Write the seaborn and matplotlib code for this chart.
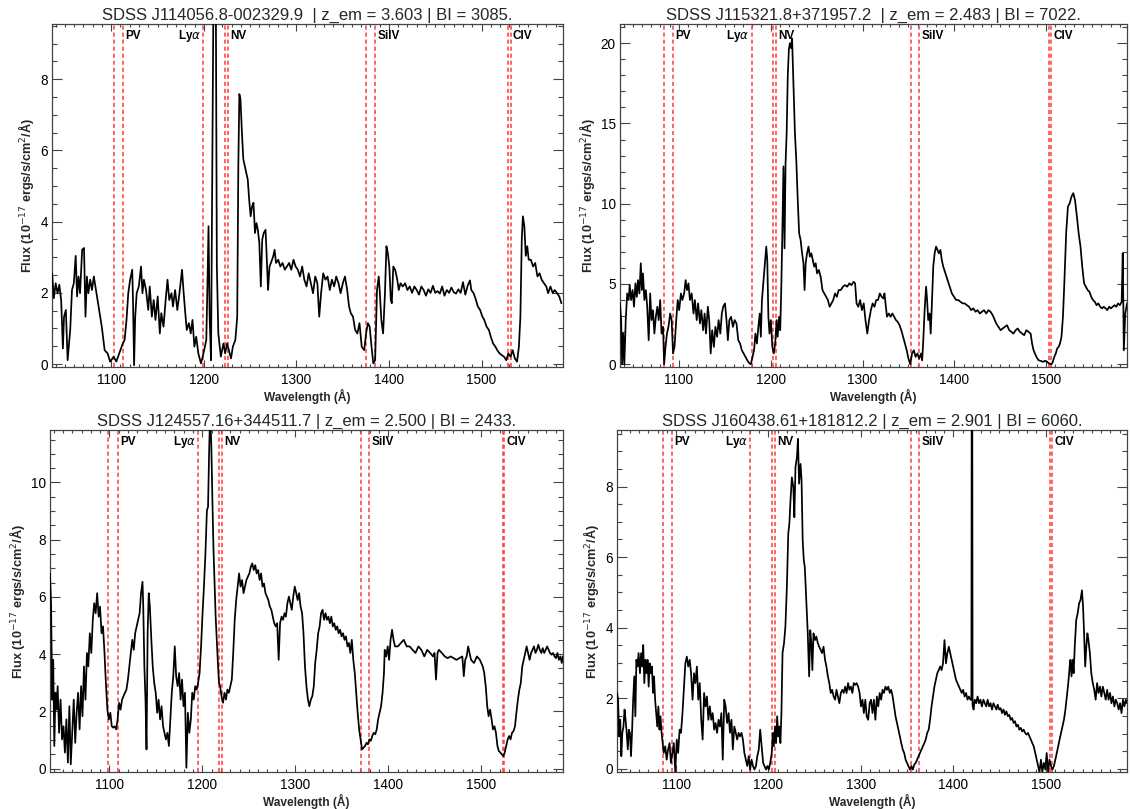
import matplotlib
matplotlib.use("Agg")
import matplotlib.pyplot as plt
import matplotlib.transforms as mtransforms
from matplotlib.ticker import MultipleLocator
import seaborn as sns

# ---------------- data ----------------
titles = [
    "SDSS J114056.8-002329.9  | z_em = 3.603 | BI = 3085.",
    "SDSS J115321.8+371957.2  | z_em = 2.483 | BI = 7022.",
    "SDSS J124557.16+344511.7 | z_em = 2.500 | BI = 2433.",
    "SDSS J160438.61+181812.2 | z_em = 2.901 | BI = 6060.",
]

ion_names = ["PV", "Ly$\\alpha$", "NV", "SiIV", "CIV"]

# dashed marker positions: PV a/b, Lya, NV a/b, SiIV a/b, CIV a/b
lines1 = [1102.9, 1112.7, 1199.3, 1222.9, 1226.0, 1375.5, 1384.9, 1529.0, 1531.5]
lines2 = [1084.0, 1094.1, 1179.2, 1202.2, 1205.7, 1352.8, 1361.7, 1503.0, 1505.3]
lines3 = [1098.2, 1108.8, 1195.5, 1217.9, 1221.4, 1370.6, 1379.3, 1523.0, 1525.0]
lines4 = [1085.5, 1095.2, 1180.5, 1203.5, 1207.0, 1354.3, 1362.8, 1504.2, 1506.6]

# panel 1 : SDSS J114056.8-002329.9
w1 = [1036.1, 1038.0, 1040.0, 1042.0, 1043.9, 1045.9, 1047.8, 1049.0, 1051.0, 1052.9,
      1055.7, 1057.6, 1059.6, 1061.6, 1063.1, 1064.7, 1066.3, 1068.6, 1070.6, 1072.2,
      1073.7, 1075.3, 1077.3, 1079.2, 1081.2, 1083.5, 1085.1, 1087.5, 1089.8, 1092.9,
      1096.1, 1098.8, 1102.7, 1105.5, 1108.6, 1112.5, 1114.5, 1116.5, 1118.4, 1120.4,
      1122.7, 1123.5, 1124.7, 1125.9, 1127.5, 1129.8, 1132.2, 1133.7, 1135.3, 1137.6,
      1140.0, 1141.6, 1143.9, 1145.9, 1147.8, 1150.2, 1152.5, 1154.1, 1156.5, 1158.8,
      1160.8, 1162.7, 1165.1, 1166.7, 1169.0, 1171.4, 1173.7, 1176.5, 1178.0, 1180.0,
      1181.6, 1183.9, 1185.9, 1187.8, 1189.8, 1191.8, 1194.1, 1196.9, 1198.8, 1201.2,
      1202.7, 1203.9, 1205.1, 1206.3, 1207.8, 1209.4, 1210.6, 1212.9, 1214.1, 1215.7,
      1218.4, 1221.2, 1223.1, 1225.1, 1227.1, 1229.4, 1231.4, 1234.1, 1236.1, 1237.3,
      1238.4, 1239.6, 1241.2, 1242.7, 1244.3, 1245.9, 1247.5, 1249.0, 1250.6, 1252.2,
      1253.7, 1255.3, 1256.9, 1258.4, 1260.0, 1261.6, 1263.1, 1264.7, 1266.7, 1267.8,
      1269.4, 1271.0, 1272.5, 1274.9, 1276.5, 1278.0, 1280.4, 1282.7, 1285.1, 1287.5,
      1289.8, 1292.2, 1294.5, 1296.9, 1299.2, 1301.6, 1303.9, 1306.3, 1308.6, 1311.0,
      1313.3, 1315.7, 1318.0, 1320.4, 1322.7, 1324.7, 1326.7, 1329.0, 1331.4, 1333.7,
      1336.1, 1338.4, 1340.8, 1343.1, 1345.5, 1347.8, 1350.2, 1352.5, 1354.9, 1356.9,
      1358.8, 1361.2, 1363.5, 1365.9, 1368.2, 1370.6, 1373.3, 1375.3, 1377.3, 1379.2,
      1381.2, 1383.1, 1385.1, 1387.1, 1389.0, 1390.2, 1391.8, 1393.7, 1395.7, 1397.3,
      1398.8, 1400.4, 1402.0, 1403.1, 1404.7, 1406.7, 1409.0, 1410.6, 1412.5, 1415.0,
      1417.5, 1420.0, 1422.5, 1425.0, 1427.5, 1430.0, 1432.5, 1435.0, 1437.5, 1440.0,
      1442.5, 1445.0, 1447.5, 1450.0, 1452.5, 1455.0, 1457.5, 1460.0, 1462.5, 1465.0,
      1467.5, 1470.0, 1472.5, 1475.0, 1477.5, 1480.0, 1482.5, 1485.0, 1487.5, 1489.0,
      1491.5, 1494.0, 1496.0, 1498.5, 1501.0, 1503.0, 1505.5, 1508.0, 1510.0, 1512.5,
      1515.0, 1517.0, 1519.5, 1522.0, 1524.3, 1526.7, 1529.0, 1531.4, 1533.7, 1536.0,
      1538.4, 1540.4, 1542.0, 1543.5, 1544.7, 1546.3, 1547.8, 1549.4, 1551.0, 1553.3,
      1555.7, 1558.0, 1560.4, 1562.7, 1565.0, 1567.5, 1570.0, 1572.0, 1574.5, 1577.0,
      1579.0, 1581.6, 1584.0, 1586.3]
f1 = [2.55, 1.85, 2.27, 1.99, 2.23, 1.80, 0.44, 1.33, 1.52, 0.11,
      0.96, 2.08, 2.27, 3.04, 1.90, 2.46, 1.99, 3.21, 3.26, 1.33,
      2.46, 1.99, 2.37, 2.08, 2.46, 2.08, 1.80, 1.43, 1.05, 0.39,
      0.30, 0.07, 0.21, 0.07, 0.30, 0.58, 0.68, 1.24, 1.99, 2.37,
      2.65, 1.80, -0.03, 1.33, 1.99, 2.18, 2.74, 1.99, 2.37, 2.08,
      1.52, 2.18, 1.33, 1.80, 1.24, 1.90, 0.86, 1.43, 1.05, 1.80,
      2.37, 1.80, 1.99, 1.62, 2.08, 1.52, 1.99, 2.65, 2.08, 1.43,
      0.96, 1.15, 0.86, 1.24, 0.49, 0.77, 0.30, 0.02, 0.21, 0.49,
      0.68, 2.18, 3.87, 1.33, 0.11, 6.50, 11.0, 11.0, 2.74, 0.86,
      0.21, 0.58, 0.30, 0.58, 0.39, 0.16, 0.49, 0.68, 1.33, 5.56,
      7.58, 7.44, 6.50, 5.75, 5.56, 5.37, 5.18, 4.62, 4.15, 4.43,
      4.53, 3.68, 3.96, 3.77, 3.40, 2.18, 3.49, 3.68, 3.77, 3.12,
      2.08, 2.74, 2.84, 3.02, 3.21, 2.84, 2.93, 2.74, 2.84, 2.65,
      2.74, 2.84, 2.65, 2.93, 2.74, 2.65, 2.46, 2.74, 2.37, 2.18,
      2.55, 2.27, 1.99, 2.46, 2.27, 1.33, 1.99, 2.55, 2.37, 2.46,
      2.08, 2.37, 2.18, 2.46, 2.27, 1.99, 2.27, 2.46, 2.08, 1.62,
      1.43, 1.33, 0.96, 0.86, 1.15, 0.49, 0.39, 0.86, 1.15, 1.05,
      0.49, 0.02, 0.11, 2.08, 2.46, 1.99, 1.24, 0.86, 1.99, 3.31,
      3.12, 2.74, 1.80, 1.71, 2.74, 2.65, 2.37, 2.08, 2.27, 2.18,
      2.27, 2.08, 2.18, 2.00, 2.18, 2.08, 1.95, 2.18, 2.08, 1.92,
      2.10, 2.00, 2.20, 2.00, 2.05, 1.98, 2.18, 1.92, 2.08, 2.00,
      2.15, 2.02, 1.98, 2.10, 2.00, 2.30, 1.95, 2.20, 2.35, 2.08,
      1.99, 1.80, 1.62, 1.52, 1.33, 1.24, 1.05, 0.96, 0.77, 0.58,
      0.49, 0.39, 0.30, 0.25, 0.21, 0.11, 0.30, 0.21, 0.39, 0.16,
      0.07, 0.49, 1.33, 3.49, 4.15, 3.87, 3.04, 3.31, 2.93, 2.93,
      2.74, 2.84, 2.46, 2.55, 2.37, 2.27, 2.18, 1.99, 2.18, 1.99,
      2.08, 1.99, 1.90, 1.71]

# panel 2 : SDSS J115321.8+371957.2
w2 = [1036.0, 1037.2, 1038.3, 1039.5, 1040.7, 1042.2, 1043.8, 1045.4, 1046.5, 1048.1,
      1049.7, 1051.2, 1052.8, 1054.3, 1055.5, 1057.1, 1058.6, 1059.8, 1061.0, 1062.5,
      1064.1, 1065.6, 1067.2, 1068.8, 1070.3, 1071.9, 1073.4, 1075.0, 1076.6, 1078.1,
      1079.7, 1081.2, 1082.8, 1084.0, 1085.5, 1087.1, 1088.7, 1090.6, 1092.2, 1093.7,
      1095.3, 1097.2, 1098.8, 1100.4, 1102.3, 1103.9, 1105.8, 1107.4, 1108.9, 1110.5,
      1112.1, 1114.0, 1116.0, 1117.5, 1119.5, 1121.0, 1123.0, 1124.5, 1126.5, 1128.1,
      1129.6, 1131.6, 1133.1, 1134.7, 1136.3, 1138.2, 1139.8, 1141.7, 1143.3, 1145.2,
      1146.8, 1148.3, 1150.3, 1151.9, 1153.4, 1155.0, 1156.9, 1158.9, 1160.8, 1162.8,
      1164.7, 1166.7, 1168.6, 1170.6, 1172.5, 1174.5, 1176.4, 1178.4, 1180.3, 1181.9,
      1183.4, 1185.0, 1186.6, 1188.1, 1189.3, 1190.5, 1192.0, 1193.2, 1194.4, 1195.2,
      1196.3, 1197.5, 1198.7, 1200.2, 1201.8, 1203.4, 1204.9, 1206.5, 1207.6, 1209.2,
      1210.4, 1211.5, 1212.7, 1213.9, 1215.1, 1216.2, 1217.4, 1218.6, 1219.8, 1220.9,
      1222.1, 1223.3, 1224.8, 1226.4, 1227.9, 1229.5, 1231.0, 1232.6, 1234.2, 1235.7,
      1236.9, 1238.1, 1239.6, 1241.2, 1242.7, 1244.3, 1245.9, 1247.4, 1249.0, 1250.5,
      1252.5, 1254.4, 1256.4, 1258.4, 1260.3, 1262.3, 1264.2, 1266.2, 1268.1, 1270.1,
      1272.0, 1274.0, 1276.3, 1278.7, 1281.0, 1283.3, 1285.7, 1288.0, 1290.3, 1291.9,
      1293.5, 1295.4, 1297.4, 1299.3, 1301.3, 1303.2, 1305.2, 1307.1, 1309.1, 1311.0,
      1313.0, 1314.9, 1316.9, 1318.8, 1320.8, 1322.7, 1323.9, 1325.4, 1326.6, 1328.6,
      1330.5, 1332.5, 1334.4, 1336.4, 1338.3, 1340.3, 1342.2, 1344.2, 1346.1, 1348.1,
      1350.0, 1352.0, 1353.9, 1355.9, 1357.8, 1359.8, 1361.7, 1363.7, 1364.9, 1366.0,
      1367.6, 1369.2, 1370.3, 1371.5, 1373.1, 1374.2, 1375.4, 1377.0, 1378.5, 1380.1,
      1381.6, 1383.2, 1384.8, 1386.3, 1387.9, 1390.2, 1392.6, 1394.9, 1397.3, 1399.6,
      1401.9, 1404.3, 1406.6, 1409.0, 1411.3, 1413.6, 1416.0, 1418.3, 1420.6, 1423.0,
      1425.3, 1427.7, 1430.0, 1432.3, 1434.7, 1437.0, 1439.4, 1441.7, 1444.0, 1445.6,
      1448.0, 1450.3, 1452.6, 1455.0, 1457.3, 1459.7, 1462.0, 1464.3, 1466.7, 1469.0,
      1471.3, 1473.7, 1476.0, 1478.4, 1480.7, 1483.0, 1484.6, 1486.2, 1487.7, 1489.3,
      1491.6, 1493.9, 1496.3, 1498.6, 1501.0, 1503.3, 1505.7, 1507.2, 1508.8, 1510.4,
      1511.9, 1513.5, 1515.0, 1516.6, 1518.2, 1519.7, 1521.7, 1523.6, 1525.6, 1527.5,
      1529.5, 1531.4, 1533.4, 1535.3, 1537.3, 1539.2, 1541.2, 1543.1, 1545.1, 1547.0,
      1549.0, 1550.9, 1552.9, 1554.8, 1556.7, 1558.7, 1560.7, 1562.6, 1564.6, 1566.5,
      1568.5, 1570.4, 1572.4, 1574.3, 1576.3, 1578.2, 1580.2, 1582.1, 1583.3, 1584.5,
      1586.0, 1588.0]
f2 = [3.79, 2.75, 0.00, 1.91, 0.00, 2.75, 4.41, 4.00, 4.93, 4.00,
      4.62, 3.58, 5.04, 4.20, 5.24, 4.41, 6.29, 4.62, 5.66, 4.00,
      4.62, 3.58, 1.50, 4.41, 2.75, 3.37, 1.91, 2.96, 3.58, 2.75,
      4.00, 1.91, 2.33, 0.00, 1.08, 1.91, 2.33, 3.16, 2.75, 0.67,
      1.08, 2.75, 4.00, 3.37, 4.41, 4.00, 4.41, 5.24, 4.62, 5.04,
      4.00, 4.41, 3.16, 4.00, 2.75, 3.79, 2.54, 3.37, 2.12, 3.16,
      1.91, 3.58, 2.75, 0.67, 2.12, 1.08, 2.33, 1.71, 2.75, 1.91,
      3.16, 3.58, 3.79, 2.75, 1.50, 2.75, 2.96, 2.33, 2.75, 2.54,
      1.50, 1.29, 0.87, 0.67, 0.46, 0.25, 0.08, 0.00, 0.46, 0.87,
      1.91, 1.29, 2.33, 3.16, 1.71, 4.00, 5.04, 5.87, 6.70, 7.33,
      6.49, 2.96, 1.91, 2.75, 1.08, 0.67, 1.29, 2.75, 1.71, 2.96,
      2.12, 4.62, 8.16, 12.32, 7.22, 12.5, 14.4, 17.94, 19.6, 20.0,
      19.7, 20.3, 17.5, 14.4, 12.7, 10.2, 8.16, 7.74, 6.91, 6.29,
      4.62, 6.29, 6.91, 7.33, 6.70, 6.91, 6.49, 6.08, 6.29, 5.66,
      5.87, 5.45, 4.62, 4.41, 4.20, 4.00, 3.58, 3.79, 4.00, 4.41,
      4.20, 4.62, 4.62, 4.83, 4.93, 4.83, 5.04, 4.93, 5.14, 5.04,
      3.79, 3.58, 4.00, 3.37, 3.79, 2.75, 1.91, 2.75, 3.37, 3.79,
      3.58, 4.00, 4.00, 4.41, 4.20, 4.10, 4.41, 3.58, 2.96, 3.16,
      2.96, 3.16, 2.96, 2.75, 2.64, 2.43, 2.12, 1.71, 1.29, 0.87,
      0.35, 0.00, 0.67, 0.87, 0.46, 0.67, 0.35, 0.67, 0.25, 1.29,
      3.37, 4.83, 4.00, 2.75, 3.16, 1.91, 3.58, 6.08, 6.91, 7.33,
      7.12, 6.91, 7.12, 6.49, 6.08, 5.66, 5.24, 4.83, 4.41, 4.20,
      4.00, 4.00, 3.89, 3.79, 3.79, 3.68, 3.58, 3.37, 3.48, 3.27,
      3.37, 3.16, 3.27, 3.37, 3.16, 3.37, 3.27, 3.06, 2.75, 2.54,
      2.33, 2.12, 2.23, 2.33, 2.43, 2.12, 2.02, 1.91, 2.12, 2.23,
      2.02, 1.91, 1.81, 2.12, 2.02, 1.91, 1.29, 0.87, 0.67, 0.46,
      0.25, 0.21, 0.15, 0.21, 0.15, 0.04, 0.00, 0.15, 0.46, 0.67,
      0.98, 1.08, 1.29, 1.71, 2.96, 5.04, 8.16, 9.82, 10.03, 10.45,
      10.66, 10.2, 9.2, 8.16, 7.33, 6.08, 5.04, 4.83, 4.62, 4.52,
      4.20, 4.00, 3.89, 3.68, 3.79, 3.58, 3.48, 3.58, 3.48, 3.37,
      3.58, 3.48, 3.58, 3.68, 3.58, 3.79, 3.68, 3.89, 6.91, 0.87,
      3.16, 3.79]

# panel 3 : SDSS J124557.16+344511.7
w3 = [1036.0, 1037.2, 1038.4, 1039.5, 1040.7, 1041.9, 1043.1, 1044.3, 1045.8, 1047.4,
      1049.0, 1050.6, 1052.1, 1053.7, 1055.3, 1056.9, 1058.4, 1060.0, 1061.6, 1063.2,
      1064.7, 1066.3, 1067.9, 1069.5, 1071.0, 1072.6, 1074.2, 1075.8, 1077.3, 1078.9,
      1080.5, 1082.1, 1083.6, 1085.2, 1086.8, 1088.4, 1089.9, 1091.5, 1093.1, 1094.7,
      1096.2, 1097.8, 1099.4, 1101.0, 1102.5, 1104.1, 1105.7, 1107.3, 1108.8, 1110.4,
      1112.0, 1113.6, 1115.1, 1116.7, 1118.3, 1119.9, 1121.4, 1123.0, 1124.6, 1126.2,
      1127.7, 1129.3, 1130.9, 1132.5, 1134.0, 1135.6, 1136.4, 1137.6, 1138.8, 1139.9,
      1141.1, 1142.3, 1143.5, 1145.1, 1146.6, 1148.2, 1149.8, 1151.4, 1152.9, 1154.5,
      1156.1, 1157.7, 1159.2, 1160.8, 1162.4, 1164.0, 1165.5, 1167.1, 1168.7, 1170.3,
      1171.8, 1173.4, 1175.0, 1176.6, 1178.1, 1179.7, 1181.3, 1182.8, 1184.4, 1186.0,
      1187.6, 1189.1, 1190.7, 1192.3, 1193.9, 1195.4, 1197.0, 1198.6, 1200.2, 1201.7,
      1203.3, 1204.9, 1206.1, 1207.3, 1208.4, 1209.6, 1210.8, 1212.0, 1213.2, 1214.3,
      1215.5, 1216.7, 1217.9, 1219.1, 1220.6, 1222.2, 1223.8, 1225.4, 1226.9, 1228.5,
      1230.1, 1231.7, 1233.2, 1234.8, 1236.4, 1238.0, 1239.5, 1241.1, 1242.7, 1244.3,
      1245.8, 1247.4, 1249.0, 1250.6, 1252.1, 1253.7, 1255.3, 1256.9, 1258.4, 1260.0,
      1261.6, 1263.2, 1264.7, 1266.3, 1267.9, 1269.5, 1271.0, 1272.6, 1274.2, 1275.8,
      1277.3, 1278.9, 1280.5, 1282.1, 1283.6, 1285.2, 1286.8, 1288.4, 1289.9, 1291.5,
      1293.1, 1294.7, 1296.2, 1297.8, 1299.4, 1301.0, 1302.5, 1304.1, 1305.7, 1307.3,
      1308.8, 1310.4, 1312.0, 1313.6, 1315.1, 1316.7, 1318.3, 1319.9, 1321.4, 1323.0,
      1324.6, 1326.2, 1327.7, 1329.3, 1330.9, 1332.5, 1334.0, 1335.6, 1337.2, 1338.8,
      1340.3, 1341.9, 1343.5, 1345.1, 1346.6, 1348.2, 1349.8, 1351.4, 1352.9, 1354.5,
      1356.1, 1357.7, 1359.2, 1360.8, 1362.4, 1364.0, 1365.5, 1367.1, 1368.7, 1370.3,
      1371.8, 1373.4, 1375.0, 1376.6, 1378.1, 1379.7, 1381.3, 1382.8, 1384.4, 1386.0,
      1387.6, 1389.1, 1390.7, 1392.3, 1393.9, 1395.4, 1396.2, 1397.8, 1399.4, 1400.9,
      1402.5, 1404.1, 1405.7, 1407.3, 1410.4, 1413.6, 1416.7, 1419.9, 1423.0, 1426.2,
      1429.3, 1432.5, 1435.6, 1438.8, 1441.9, 1445.1, 1448.2, 1449.8, 1451.4, 1453.0,
      1454.5, 1457.7, 1460.8, 1464.0, 1467.1, 1470.3, 1473.4, 1476.5, 1479.7, 1481.3,
      1482.8, 1484.4, 1486.0, 1489.1, 1492.3, 1495.4, 1498.6, 1501.7, 1503.3, 1504.9,
      1506.5, 1508.0, 1509.6, 1511.2, 1512.7, 1514.3, 1515.9, 1517.5, 1519.0, 1520.6,
      1522.2, 1523.8, 1525.3, 1526.9, 1528.5, 1530.1, 1531.6, 1533.2, 1534.8, 1536.4,
      1537.9, 1539.5, 1541.1, 1542.6, 1544.2, 1545.8, 1547.4, 1548.9, 1550.5, 1552.1,
      1553.7, 1555.2, 1556.8, 1558.4, 1559.9, 1561.5, 1563.1, 1564.7, 1566.2, 1567.8,
      1569.4, 1571.0, 1572.6, 1574.1, 1575.7, 1577.3, 1578.9, 1580.4, 1582.0, 1583.6,
      1585.2, 1586.7, 1587.9]
f3 = [6.82, 5.78, 2.41, 3.80, 0.79, 2.65, 2.06, 2.88, 1.25, 2.41,
      1.02, 1.48, 0.56, 1.72, 0.21, 2.18, 0.15, 1.25, 2.41, 0.90,
      1.95, 2.65, 1.37, 2.88, 1.83, 3.57, 2.41, 4.04, 3.57, 4.73,
      4.04, 5.20, 5.78, 5.43, 6.13, 5.31, 5.66, 4.73, 4.97, 4.04,
      2.99, 2.06, 1.72, 1.95, 1.48, 1.43, 1.48, 1.37, 1.72, 2.30,
      2.06, 2.41, 2.53, 2.65, 2.76, 3.11, 3.57, 4.04, 4.50, 4.15,
      4.73, 4.97, 5.20, 5.43, 6.13, 6.53, 5.66, 3.57, 2.41, 0.67,
      4.73, 6.13, 5.66, 4.50, 3.57, 2.99, 2.65, 1.95, 2.41, 1.72,
      2.18, 1.48, 1.25, 1.02, 1.25, 0.79, 1.72, 2.65, 3.23, 4.27,
      3.23, 2.88, 3.34, 2.41, 3.11, 2.18, 2.65, 0.03, 1.95, 1.25,
      1.72, 2.65, 2.41, 2.88, 2.76, 2.99, 3.34, 4.27, 5.43, 6.36,
      7.52, 9.03, 9.14, 11.10, 12.5, 11.35, 9.37, 7.63, 6.36, 5.31,
      4.50, 3.69, 2.99, 2.88, 2.53, 2.30, 2.65, 2.41, 2.76, 2.65,
      2.88, 3.11, 4.04, 5.20, 5.89, 6.36, 6.82, 6.36, 6.59, 6.13,
      6.36, 6.59, 6.71, 6.82, 7.05, 7.17, 6.94, 7.11, 6.82, 6.94,
      6.59, 6.82, 6.36, 6.47, 6.13, 6.01, 5.89, 5.66, 5.55, 5.31,
      5.08, 4.97, 5.08, 3.80, 5.08, 5.31, 5.20, 5.43, 5.31, 5.78,
      6.01, 5.78, 5.55, 6.01, 6.36, 6.13, 5.89, 6.13, 5.66, 5.43,
      4.73, 3.57, 2.88, 2.41, 2.18, 2.41, 2.53, 2.88, 3.69, 4.15,
      4.73, 4.97, 5.43, 5.55, 5.20, 5.43, 5.20, 5.31, 5.08, 5.31,
      4.97, 5.08, 4.85, 4.97, 4.73, 4.85, 4.62, 4.73, 4.50, 4.62,
      4.27, 4.39, 4.04, 4.50, 3.80, 3.34, 2.65, 1.95, 1.37, 1.02,
      0.67, 0.73, 0.79, 0.90, 0.85, 1.02, 0.97, 1.14, 1.25, 1.20,
      1.37, 1.72, 1.95, 2.18, 2.65, 3.34, 4.15, 3.92, 4.27, 3.80,
      4.50, 4.85, 4.50, 4.27, 4.27, 4.39, 4.50, 4.27, 4.27, 4.15,
      4.04, 4.27, 4.15, 3.92, 4.15, 4.04, 3.92, 4.04, 3.11, 4.04,
      4.15, 4.04, 3.92, 3.86, 3.92, 3.86, 3.80, 3.86, 3.92, 3.23,
      3.80, 3.92, 4.27, 3.80, 3.69, 3.92, 3.80, 3.57, 3.34, 2.88,
      2.18, 1.83, 2.06, 1.72, 1.37, 1.48, 1.25, 0.79, 0.61, 0.56,
      0.50, 0.44, 0.56, 0.79, 1.02, 1.14, 1.02, 1.25, 1.31, 1.48,
      1.95, 2.41, 2.76, 2.99, 3.57, 3.80, 4.04, 4.27, 4.04, 3.80,
      4.04, 4.15, 4.27, 4.04, 4.15, 4.33, 4.15, 4.04, 4.21, 4.04,
      4.15, 4.27, 4.15, 4.04, 3.98, 4.04, 3.92, 3.86, 4.04, 3.80,
      3.92, 3.69, 3.92]

# panel 4 : SDSS J160438.61+181812.2
w4 = [1036.0, 1037.2, 1038.3, 1039.5, 1040.7, 1041.8, 1043.0, 1044.2, 1045.3, 1046.5,
      1047.7, 1048.8, 1050.0, 1051.2, 1052.4, 1053.5, 1054.7, 1055.9, 1057.0, 1058.2,
      1059.4, 1060.9, 1062.1, 1063.3, 1064.4, 1065.6, 1066.8, 1067.9, 1069.1, 1070.3,
      1071.4, 1072.6, 1073.8, 1075.0, 1076.1, 1077.3, 1078.5, 1079.6, 1080.8, 1082.0,
      1083.1, 1084.3, 1085.5, 1086.6, 1088.2, 1089.8, 1091.3, 1092.9, 1094.4, 1096.0,
      1097.5, 1099.1, 1100.7, 1102.2, 1103.8, 1105.3, 1106.9, 1108.5, 1110.0, 1111.6,
      1113.1, 1114.7, 1116.2, 1117.8, 1119.4, 1120.9, 1122.5, 1124.0, 1125.6, 1127.2,
      1128.7, 1130.3, 1131.8, 1133.4, 1134.9, 1136.5, 1138.1, 1139.6, 1141.2, 1142.7,
      1144.3, 1145.9, 1147.4, 1149.0, 1150.5, 1152.1, 1153.6, 1155.2, 1156.8, 1158.3,
      1159.9, 1161.4, 1163.0, 1164.6, 1166.1, 1167.7, 1169.2, 1170.8, 1172.3, 1173.9,
      1175.5, 1177.0, 1178.6, 1180.1, 1181.7, 1183.2, 1184.8, 1186.4, 1187.9, 1189.5,
      1191.0, 1192.6, 1194.2, 1195.7, 1197.3, 1198.8, 1200.4, 1201.9, 1203.5, 1204.7,
      1205.8, 1207.0, 1208.2, 1209.4, 1210.5, 1211.7, 1212.9, 1214.0, 1215.2, 1216.8,
      1218.3, 1219.9, 1221.4, 1222.6, 1223.8, 1225.3, 1226.9, 1228.0, 1229.2, 1230.8,
      1231.9, 1233.1, 1234.7, 1235.8, 1237.0, 1238.2, 1239.3, 1240.9, 1242.5, 1244.0,
      1245.2, 1246.4, 1247.5, 1248.7, 1250.3, 1251.8, 1253.4, 1254.9, 1256.5, 1258.0,
      1259.6, 1261.2, 1262.7, 1264.3, 1265.8, 1267.4, 1268.9, 1270.5, 1272.1, 1273.6,
      1275.2, 1276.7, 1278.3, 1279.9, 1281.4, 1283.0, 1284.5, 1286.1, 1287.6, 1289.2,
      1290.8, 1292.3, 1293.9, 1295.4, 1297.0, 1298.6, 1300.1, 1301.7, 1303.2, 1304.8,
      1306.3, 1307.9, 1309.5, 1311.0, 1312.6, 1314.1, 1315.7, 1317.3, 1318.8, 1320.4,
      1321.9, 1323.5, 1325.0, 1326.6, 1328.2, 1329.7, 1331.3, 1332.8, 1334.4, 1336.0,
      1337.5, 1339.1, 1340.6, 1342.2, 1343.7, 1345.3, 1346.9, 1348.4, 1350.0, 1351.5,
      1353.1, 1354.7, 1356.2, 1357.8, 1359.3, 1360.9, 1362.4, 1364.0, 1365.6, 1367.1,
      1368.7, 1370.2, 1371.8, 1373.4, 1374.9, 1376.5, 1378.0, 1379.6, 1381.1, 1382.7,
      1384.3, 1385.8, 1387.4, 1388.9, 1390.5, 1392.1, 1393.6, 1395.2, 1396.7, 1398.3,
      1399.8, 1401.4, 1403.0, 1404.5, 1406.1, 1407.6, 1409.2, 1410.7, 1412.3, 1413.9,
      1415.4, 1417.0, 1418.5, 1419.6, 1420.0, 1420.5, 1420.9, 1422.0, 1423.2, 1424.8,
      1426.3, 1427.9, 1429.4, 1431.0, 1432.6, 1434.1, 1435.7, 1437.2, 1438.8, 1440.4,
      1441.9, 1443.5, 1445.0, 1446.6, 1448.1, 1449.7, 1451.3, 1452.8, 1454.4, 1455.9,
      1457.5, 1459.1, 1460.6, 1462.2, 1463.7, 1465.3, 1466.8, 1468.4, 1470.0, 1471.5,
      1473.1, 1474.6, 1476.2, 1477.7, 1479.3, 1480.9, 1482.4, 1484.0, 1485.5, 1487.1,
      1488.7, 1490.2, 1491.8, 1493.3, 1494.9, 1496.4, 1498.0, 1499.6, 1501.1, 1502.7,
      1504.2, 1505.8, 1507.4, 1508.9, 1510.5, 1512.0, 1513.6, 1515.1, 1516.7, 1518.3,
      1519.8, 1521.4, 1522.9, 1524.5, 1526.0, 1526.8, 1528.0, 1529.2, 1530.3, 1531.5,
      1533.1, 1534.6, 1536.2, 1537.7, 1539.3, 1540.5, 1541.6, 1542.8, 1544.0, 1545.2,
      1546.3, 1547.9, 1549.4, 1551.0, 1552.6, 1554.1, 1555.7, 1557.2, 1558.8, 1560.3,
      1561.9, 1563.5, 1565.0, 1566.6, 1568.1, 1569.7, 1571.2, 1572.8, 1574.4, 1575.9,
      1577.5, 1579.0, 1580.6, 1582.1, 1583.7, 1585.2, 1586.8, 1588.0]
f4 = [2.15, 1.96, 0.92, 1.39, 0.36, 1.02, 1.20, 1.68, 1.39, 1.02,
      0.55, 1.11, 1.02, 0.36, 1.11, 1.96, 2.62, 1.49, 3.09, 2.90,
      3.28, 2.71, 3.28, 2.90, 3.51, 2.43, 3.09, 2.71, 3.09, 2.33,
      2.99, 2.71, 2.90, 2.15, 2.62, 1.96, 1.58, 1.20, 1.77, 1.11,
      1.49, 1.02, 0.73, 0.45, 0.64, 0.26, 0.55, 0.73, 0.17, 0.45,
      0.73, -0.09, 0.83, 0.45, 1.11, 1.02, 1.58, 2.33, 2.99, 3.18,
      2.90, 3.09, 2.71, 1.96, 2.71, 2.43, 2.90, 1.96, 2.43, 1.39,
      0.83, 2.15, 1.77, 2.05, 1.39, 1.77, 1.39, 1.58, 1.11, 1.30,
      1.02, 1.39, 1.20, 1.58, 0.26, 1.96, 1.77, 1.30, 1.58, 1.02,
      1.39, 0.55, 1.20, 1.02, 0.83, 1.02, 0.92, 1.02, 0.83, 0.45,
      0.26, 0.08, 0.36, -0.02, 0.26, 0.08, -0.02, 0.08, 0.36, 0.55,
      1.11, 0.64, 0.17, 0.08, -0.02, 0.08, -0.02, 0.17, 0.45, 1.02,
      0.64, 1.20, 0.73, 1.49, 0.92, 1.20, 0.73, 1.58, 3.28, 3.56,
      4.03, 5.16, 6.66, 6.95, 7.60, 8.26, 7.98, 7.13, 8.55, 8.83,
      9.35, 8.08, 8.64, 8.17, 6.48, 5.91, 5.72, 4.78, 3.84, 2.62,
      3.93, 3.56, 2.80, 3.84, 3.65, 3.75, 3.56, 3.46, 3.37, 3.28,
      3.46, 3.09, 2.90, 2.62, 2.43, 2.15, 2.24, 2.05, 1.96, 2.24,
      2.05, 1.86, 2.15, 2.24, 2.15, 2.33, 2.15, 2.43, 2.24, 2.33,
      2.15, 2.43, 2.38, 2.43, 2.33, 2.15, 1.77, 1.96, 1.58, 1.96,
      1.49, 1.39, 1.86, 1.96, 1.58, 1.96, 1.39, 2.05, 1.77, 2.15,
      1.96, 2.24, 2.15, 2.33, 2.24, 2.33, 2.15, 2.24, 2.05, 1.77,
      1.49, 1.30, 1.11, 0.92, 0.73, 0.55, 0.45, 0.26, 0.17, 0.08,
      -0.02, 0.08, -0.02, 0.12, 0.17, 0.26, 0.36, 0.45, 0.55, 0.64,
      0.73, 0.83, 1.02, 1.11, 1.39, 1.77, 2.05, 2.33, 2.52, 2.71,
      2.80, 2.90, 2.80, 2.99, 3.65, 2.99, 3.28, 3.46, 3.28, 3.09,
      2.90, 2.71, 2.52, 2.43, 2.33, 2.24, 2.15, 2.24, 2.05, 2.15,
      1.96, 2.05, 1.96, 1.96, 12.0, 12.0, 1.80, 1.68, 1.96, 1.86,
      2.05, 1.86, 1.96, 1.77, 1.96, 1.86, 1.77, 1.96, 1.77, 1.86,
      1.68, 1.86, 1.77, 1.68, 1.82, 1.68, 1.72, 1.58, 1.68, 1.53,
      1.63, 1.49, 1.53, 1.39, 1.44, 1.30, 1.35, 1.20, 1.25, 1.11,
      1.16, 1.06, 1.11, 1.02, 0.97, 1.02, 0.92, 0.83, 0.73, 0.64,
      0.45, 0.26, 0.08, -0.09, 0.26, -0.09, 0.17, -0.02, 0.45, -0.09,
      0.26, 0.08, -0.02, 0.08, 0.26, 0.45, 0.64, 0.83, 1.02, 1.20,
      1.39, 1.68, 2.05, 2.43, 2.90, 3.09, 2.62, 3.09, 2.71, 3.46,
      4.22, 4.40, 4.69, 4.78, 5.06, 4.59, 3.84, 2.90, 3.46, 3.84,
      3.65, 3.28, 2.71, 2.43, 2.24, 1.96, 2.43, 2.15, 2.33, 2.05,
      2.33, 2.15, 1.96, 2.24, 1.96, 2.15, 1.86, 2.05, 1.77, 1.96,
      1.86, 1.68, 1.86, 1.58, 1.96, 1.77, 1.96, 1.86]

y_limits = [(-0.08, 9.55), (-0.17, 21.2), (-0.12, 11.83), (-0.09, 9.6)]
y_major = [2, 5, 2, 2]
y_minor = [0.5, 1, 0.5, 0.5]

spectra = [(w1, f1), (w2, f2), (w3, f3), (w4, f4)]
marker_sets = [lines1, lines2, lines3, lines4]

# ---------------- style ----------------
sns.set_theme(style="ticks")
plt.rcParams["font.family"] = ["Liberation Sans", "DejaVu Sans"]
plt.rcParams["mathtext.fontset"] = "dejavusans"
plt.rcParams["axes.linewidth"] = 0.9
plt.rcParams["axes.edgecolor"] = "#444444"

fig = plt.figure(figsize=(11.3, 8.09), dpi=100)

rects = [
    [0.0460, 0.5464, 0.4522, 0.4240],
    [0.5487, 0.5464, 0.4487, 0.4240],
    [0.0442, 0.0457, 0.4540, 0.4227],
    [0.5460, 0.0457, 0.4513, 0.4227],
]

flux_label = "Flux (10$^{-17}$ ergs/s/cm$^{2}$/Å)"

for i in range(4):
    ax = fig.add_axes(rects[i])
    w, f = spectra[i]
    sns.lineplot(x=w, y=f, ax=ax, color="black", linewidth=1.25,
                 sort=False, estimator=None, zorder=3)

    lines = marker_sets[i]
    for xv in lines:
        ax.axvline(xv, color="#ff3b3b", linewidth=1.1, dashes=(2.7, 1.9), zorder=2)

    trans = mtransforms.blended_transform_factory(ax.transData, ax.transAxes)
    kw = dict(transform=trans, fontsize=8.5, fontweight="bold", va="center", color="black")
    ax.text(lines[1] + 2.5, 0.965, ion_names[0], ha="left", **kw)
    ax.text(lines[2] - 2.5, 0.965, ion_names[1], ha="right", **kw)
    ax.text(lines[4] + 2.5, 0.965, ion_names[2], ha="left", **kw)
    ax.text(lines[6] + 2.5, 0.965, ion_names[3], ha="left", **kw)
    ax.text(lines[8] + 2.5, 0.965, ion_names[4], ha="left", **kw)

    ax.set_xlim(1036, 1588)
    ax.set_ylim(*y_limits[i])
    ax.xaxis.set_major_locator(MultipleLocator(100))
    ax.xaxis.set_minor_locator(MultipleLocator(10))
    ax.yaxis.set_major_locator(MultipleLocator(y_major[i]))
    ax.yaxis.set_minor_locator(MultipleLocator(y_minor[i]))
    ax.tick_params(axis="both", which="both", direction="in", top=True, right=True,
                   colors="#444444", labelcolor="black", width=0.8)
    ax.tick_params(axis="x", which="major", length=4.8, labelsize=9.8, pad=4)
    ax.tick_params(axis="x", which="minor", length=2.2)
    ax.tick_params(axis="y", which="major", length=7.2, labelsize=9.8, pad=3)
    ax.tick_params(axis="y", which="minor", length=3.6)

    ax.set_xlabel("Wavelength (Å)", fontsize=8.6, fontweight="bold", labelpad=2)
    ax.set_ylabel(flux_label, fontsize=9.2, fontweight="bold", labelpad=3)
    ax.set_title(titles[i], fontsize=12, pad=3)

fig.savefig("out.png", dpi=100)
